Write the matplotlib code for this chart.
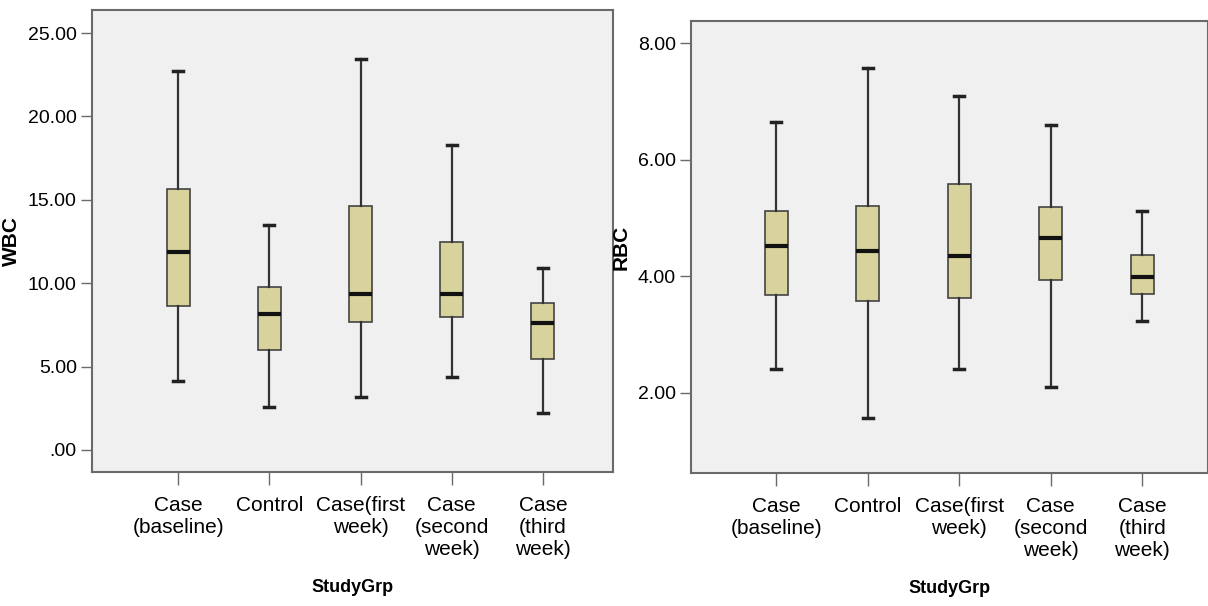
import matplotlib
matplotlib.use("Agg")
import matplotlib.pyplot as plt

groups = ["Case\n(baseline)", "Control", "Case(first\nweek)", "Case\n(second\nweek)", "Case\n(third\nweek)"]

# WBC five-number summaries
wbc_low = [4.16, 2.60, 3.16, 4.40, 2.20]
wbc_q1 = [8.64, 6.00, 7.66, 8.00, 5.46]
wbc_med = [11.90, 8.14, 9.34, 9.36, 7.60]
wbc_q3 = [15.64, 9.76, 14.60, 12.50, 8.80]
wbc_high = [22.70, 13.46, 23.44, 18.30, 10.90]

# RBC
rbc_low = [2.41, 1.56, 2.40, 2.09, 3.23]
rbc_q1 = [3.68, 3.57, 3.63, 3.93, 3.69]
rbc_med = [4.51, 4.43, 4.34, 4.66, 3.99]
rbc_q3 = [5.11, 5.21, 5.58, 5.18, 4.36]
rbc_high = [6.65, 7.58, 7.10, 6.60, 5.12]

wbc_ticks = [0, 5, 10, 15, 20, 25]
wbc_ticklabels = [".00", "5.00", "10.00", "15.00", "20.00", "25.00"]
rbc_ticks = [2, 4, 6, 8]
rbc_ticklabels = ["2.00", "4.00", "6.00", "8.00"]

plt.rcParams['font.family'] = ['Liberation Sans', 'DejaVu Sans']

BOX_COL = "#d8d39c"
BG = "#f0f0f0"
EDGE = "#6a6a6a"


def make_stats(low, q1, med, q3, high):
    stats = []
    for i in range(len(med)):
        stats.append({"whislo": low[i], "q1": q1[i], "med": med[i], "q3": q3[i],
                      "whishi": high[i], "fliers": []})
    return stats


def draw_panel(ax, stats, ylabel, ticks, ticklabels, ylim, xlim):
    ax.set_facecolor(BG)
    bp = ax.bxp(stats, positions=range(1, len(stats) + 1), widths=0.25,
                patch_artist=True, showfliers=False,
                boxprops=dict(facecolor=BOX_COL, edgecolor="#444444", linewidth=1.2),
                whiskerprops=dict(color="#333333", linewidth=1.6),
                capprops=dict(color="#222222", linewidth=2.5),
                medianprops=dict(color="#111111", linewidth=3))
    # short caps like the original
    for cap in bp["caps"]:
        xd = cap.get_xdata()
        c = (xd[0] + xd[1]) / 2
        cap.set_xdata([c - 0.055, c + 0.055])
    ax.set_xlim(*xlim)
    ax.set_ylim(*ylim)
    ax.set_yticks(ticks)
    ax.set_yticklabels(ticklabels, fontsize=14)
    ax.set_xticks(range(1, len(groups) + 1))
    ax.set_xticklabels(groups, fontsize=15, linespacing=1.2)
    ax.tick_params(axis="both", direction="out", length=8, width=1, color=EDGE, pad=3)
    ax.tick_params(axis="x", length=9, pad=8)
    ax.set_ylabel(ylabel, fontsize=15, fontweight="bold", labelpad=5)
    ax.set_xlabel("StudyGrp", fontsize=13, fontweight="bold", labelpad=15)
    for s in ax.spines.values():
        s.set_color(EDGE)
        s.set_linewidth(1.5)


fig = plt.figure(figsize=(12.08, 6.06), dpi=100)
ax1 = fig.add_axes([0.0762, 0.2211, 0.4313, 0.7624])
ax2 = fig.add_axes([0.572, 0.2195, 0.4280, 0.7458])

draw_panel(ax1, make_stats(wbc_low, wbc_q1, wbc_med, wbc_q3, wbc_high), "WBC",
           wbc_ticks, wbc_ticklabels, (-1.32, 26.38), (0.055, 5.77))
draw_panel(ax2, make_stats(rbc_low, rbc_q1, rbc_med, rbc_q3, rbc_high), "RBC",
           rbc_ticks, rbc_ticklabels, (0.62, 8.38), (0.066, 5.72))

fig.savefig("out.png", dpi=100, facecolor="white")
